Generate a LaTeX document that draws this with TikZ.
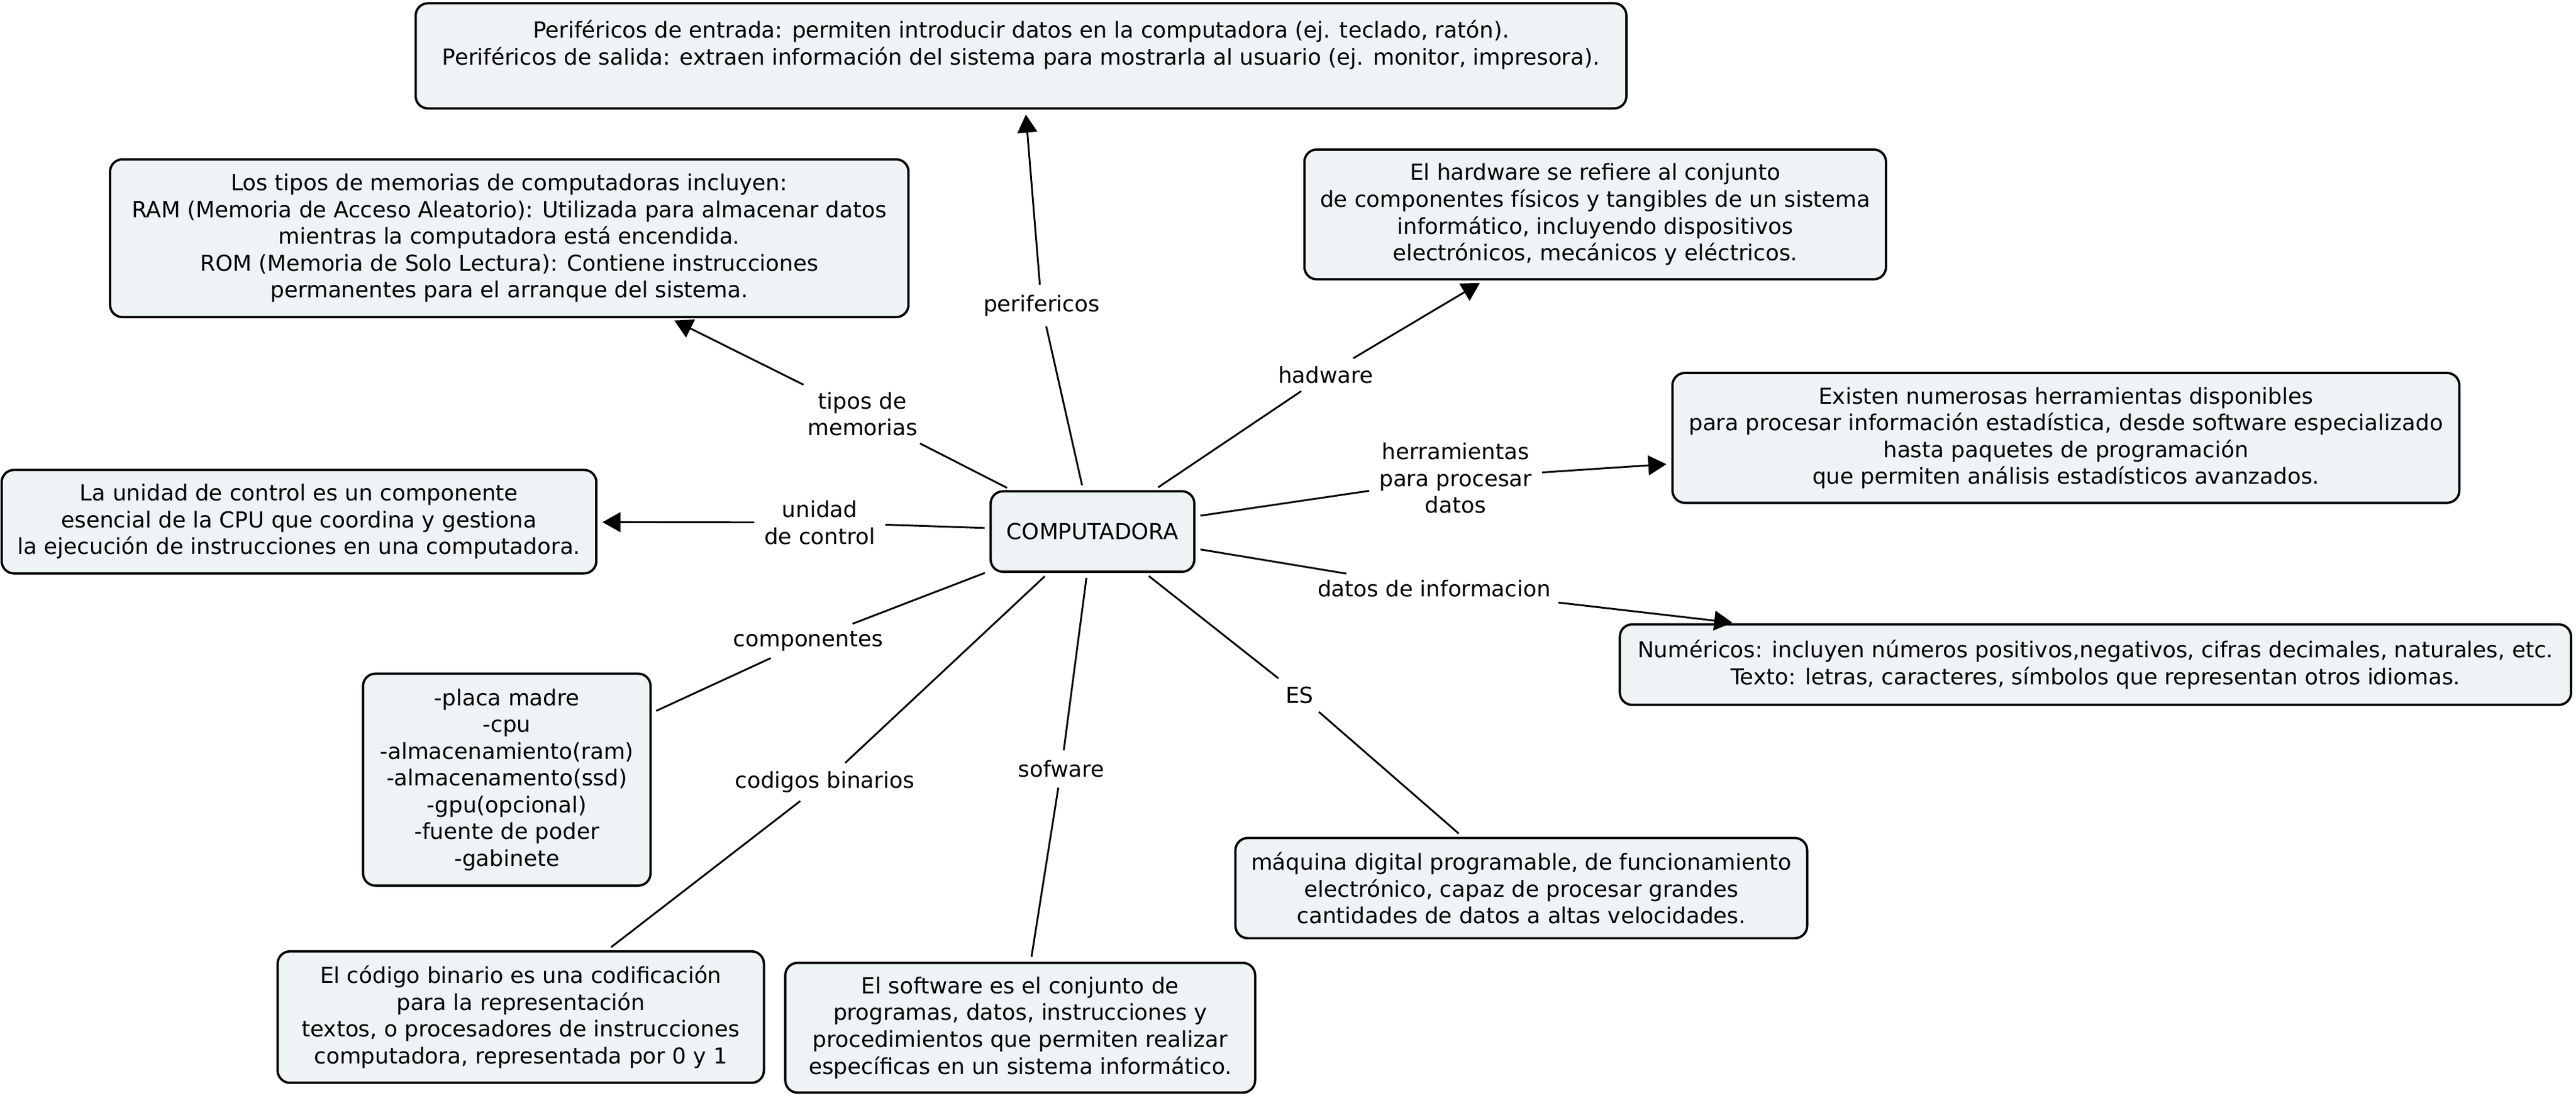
\documentclass[tikz,border=0pt]{standalone}
\usepackage{fontspec}
\setmainfont{DejaVu Sans}
\usetikzlibrary{arrows.meta}
\definecolor{boxfill}{RGB}{238,243,246}
\tikzset{
  cbox/.style={draw=black, line width=1.4pt, fill=boxfill, rounded corners=7.5pt, align=center, inner sep=2pt, font=\fontsize{13.4}{16.3}\selectfont},
  lbl/.style={align=center, inner sep=3pt, font=\fontsize{13.4}{16.3}\selectfont},
  conn/.style={line width=1.1pt, shorten <=3pt, shorten >=3pt},
  arr/.style={conn, -{Triangle[length=11pt,width=12pt]}},
}
\begin{document}
\begin{tikzpicture}[x=1pt,y=-1pt]
\useasboundingbox (0,0) rectangle (1568,668);
% boxes
\node[cbox, minimum width=737pt, minimum height=64pt] (perif) at (621.5,34) {Periféricos de entrada: permiten introducir datos en la computadora (ej. teclado, ratón).\\Periféricos de salida: extraen información del sistema para mostrarla al usuario (ej. monitor, impresora).\\\mbox{}};
\node[cbox, minimum width=486pt, minimum height=96pt] (mem) at (310,145) {Los tipos de memorias de computadoras incluyen:\\RAM (Memoria de Acceso Aleatorio): Utilizada para almacenar datos\\mientras la computadora está encendida.\\ROM (Memoria de Solo Lectura): Contiene instrucciones\\permanentes para el arranque del sistema.};
\node[cbox, minimum width=354pt, minimum height=79pt] (hard) at (971,130.5) {El hardware se refiere al conjunto\\de componentes físicos y tangibles de un sistema\\informático, incluyendo dispositivos\\electrónicos, mecánicos y eléctricos.};
\node[cbox, minimum width=479pt, minimum height=79pt] (herr) at (1257.5,266.5) {Existen numerosas herramientas disponibles\\para procesar información estadística, desde software especializado\\hasta paquetes de programación\\que permiten análisis estadísticos avanzados.};
\node[cbox, minimum width=362pt, minimum height=63pt] (unid) at (182,317.5) {La unidad de control es un componente\\esencial de la CPU que coordina y gestiona\\la ejecución de instrucciones en una computadora.};
\node[cbox, minimum width=124pt, minimum height=49pt] (comp) at (665,323.5) {COMPUTADORA};
\node[cbox, minimum width=579pt, minimum height=49pt] (num) at (1275.5,404.5) {Numéricos: incluyen números positivos,negativos, cifras decimales, naturales, etc.\\Texto: letras, caracteres, símbolos que representan otros idiomas.};
\node[cbox, minimum width=175pt, minimum height=129pt] (compo) at (308.5,474.5) {-placa madre\\-cpu\\-almacenamiento(ram)\\-almacenamento(ssd)\\-gpu(opcional)\\-fuente de poder\\-gabinete};
\node[cbox, minimum width=348pt, minimum height=61pt] (es) at (926,540.5) {máquina digital programable, de funcionamiento\\electrónico, capaz de procesar grandes\\cantidades de datos a altas velocidades.};
\node[cbox, minimum width=296pt, minimum height=80pt] (cod) at (317,619) {El código binario es una codificación\\para la representación\\textos, o procesadores de instrucciones\\computadora, representada por 0 y 1};
\node[cbox, minimum width=286pt, minimum height=79pt] (soft) at (621,625.5) {El software es el conjunto de\\programas, datos, instrucciones y\\procedimientos que permiten realizar\\específicas en un sistema informático.};
% labels
\node[lbl] (lperif) at (634,186) {perifericos};
\node[lbl] (lmem) at (525,252) {tipos de\\memorias};
\node[lbl] (lhard) at (807,228) {hadware};
\node[lbl] (lherr) at (886,291) {herramientas\\para procesar\\datos};
\node[lbl] (lunid) at (499,318) {unidad\\de control};
\node[lbl] (lnum) at (873,358) {datos de informacion};
\node[lbl] (lcompo) at (492,390) {componentes};
\node[lbl] (les) at (791,423) {ES};
\node[lbl] (lcod) at (502,476) {codigos binarios};
\node[lbl] (lsoft) at (646,468) {sofware};
% connectors
\draw[conn] (comp) -- (lperif);
\draw[arr] (lperif) -- (perif);
\draw[conn] (comp) -- (lmem);
\draw[arr] (lmem) -- (mem);
\draw[conn] (comp) -- (lhard);
\draw[arr] (lhard) -- (hard);
\draw[conn] (comp) -- (lherr);
\draw[arr] (lherr) -- (herr);
\draw[conn] (comp) -- (lunid);
\draw[arr] (lunid) -- (unid);
\draw[conn] (comp) -- (lnum);
\draw[arr] (lnum) -- (num);
\draw[conn] (comp) -- (lcompo);
\draw[conn] (lcompo) -- (compo);
\draw[conn] (comp) -- (les);
\draw[conn] (les) -- (es);
\draw[conn] (comp) -- (lcod);
\draw[conn] (lcod) -- (cod);
\draw[conn] (comp) -- (lsoft);
\draw[conn] (lsoft) -- (soft);
\end{tikzpicture}
\end{document}
